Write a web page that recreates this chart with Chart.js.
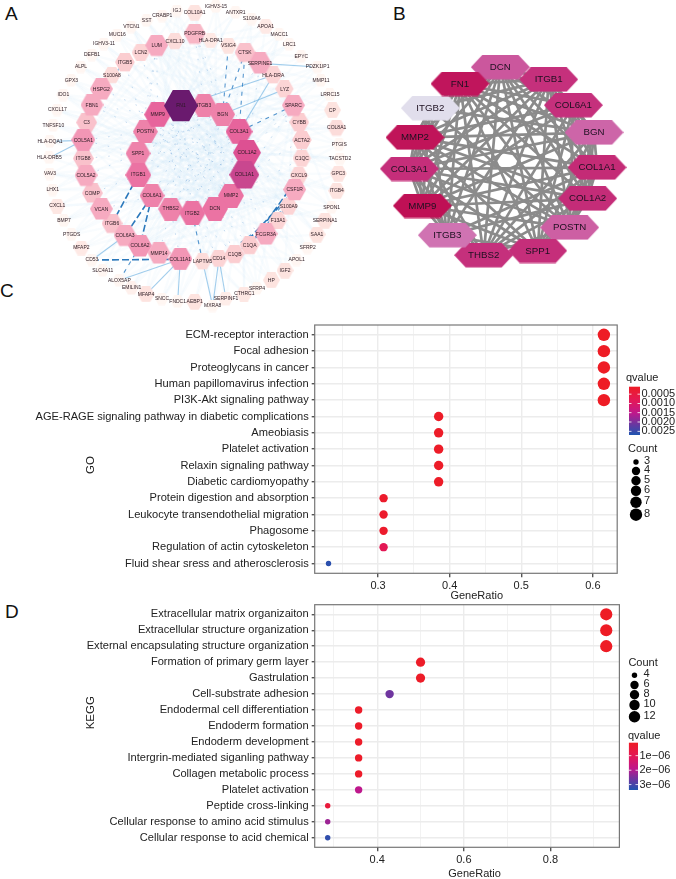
<!DOCTYPE html>
<html>
<head>
<meta charset="utf-8">
<title>PPI network and enrichment</title>
<script src="https://cdn.jsdelivr.net/npm/chart.js@4"></script>
<style>
  html, body { margin: 0; padding: 0; background: #fff; width: 676px; height: 879px; overflow: hidden; }
  canvas { position: absolute; filter: blur(.3px); }
  #netA { filter: blur(.4px); }
  .tag { position: absolute; font: 19px 'Liberation Sans', Arial, sans-serif; color: #111; }
</style>
</head>
<body>
<div class="tag" style="left:5px;top:3px">A</div>
<div class="tag" style="left:393px;top:3px">B</div>
<div class="tag" style="left:0px;top:280px">C</div>
<div class="tag" style="left:5px;top:601px">D</div>
<canvas id="netA" width="370" height="320" style="left:0;top:0"></canvas>
<canvas id="netB" width="336" height="310" style="left:340px;top:0"></canvas>
<canvas id="dotC" width="676" height="290" style="left:0;top:310px"></canvas>
<canvas id="dotD" width="676" height="289" style="left:0;top:590px"></canvas>
<script>
// ---- panel A network, layout
const aNames = ['IGJ','COL10A1','IGHV3-15','ANTXR1','S100A6','APOA1','MACC1','LRC1','EPYC','PDZK1IP1','HLA-DRA','MMP11','LRRC15','LYZ','SPARC','CP','CYBB','COL8A1','ACTA2','PTGIS','C1QC','TACSTD2','GPC3','CXCL9','CSF1R','ITGB4','S100A9','SPON1','SERPINA1','F13A1','FCGR3A','SAA1','C1QA','SFRP2','APOL1','C1QB','IGF2','HP','SFRP4','CTHRC1','SERPINF1','CD14','LAPTM5','MXRA8','AEBP1','FNDC1','SNCC','MFAP4','EMILIN1','ALOX5AP','SLC4A11','CD53','MFAP2','PTGDS','BMP7','CXCL1','LHX1','VAV3','HLA-DRB5','HLA-DQA1','TNFSF10','CXCL17','IDO1','GPX3','ALPL','DEFB1','IGHV3-11','MUC16','VTCN1','SST','CRABP1','PDGFRB','HLA-DPA1','VSIG4','CTSK','SERPINE1','CXCL10','LUM','LCN2','ITGB5','S100A8','HSPG2','FBN1','C3','COL5A1','ITGB8','COL5A2','COMP','VCAN','ITGB6','COL6A3','COL6A2','MMP14','COL11A1','ITGB3','BGN','COL3A1','COL1A2','COL1A1','MMP2','DCN','ITGB2','THBS2','COL6A1','ITGB1','SPP1','POSTN','MMP9','FN1'];
const aX = [531,584,648,707,755,797,838,868,904,953,820,963,990,854,880,997,898,1010,906,1018,906,1020,1015,897,884,1010,866,995,975,834,798,951,749,923,890,704,855,814,771,733,678,657,608,638,584,533,486,438,395,358,308,276,244,215,192,172,158,150,148,150,160,172,190,214,243,276,312,352,394,440,487,584,632,685,735,780,525,470,423,375,336,304,276,260,250,250,258,277,304,336,375,420,477,541,612,668,717,741,733,693,645,577,512,456,415,414,436,473,543];
const aY = [33,38,20,37,57,79,104,133,170,201,226,241,284,268,317,331,368,384,421,434,476,477,521,528,570,573,620,623,662,663,703,704,736,744,780,763,812,841,865,882,897,776,785,918,906,905,897,883,864,841,811,780,744,704,662,618,570,522,473,424,376,330,285,241,201,165,132,105,81,62,48,102,122,137,158,190,124,137,159,188,226,268,316,368,421,476,527,580,628,671,707,738,760,778,316,343,395,458,525,587,626,640,627,587,525,460,395,344,318];
const aDegree = [0,1,0,0,0,.7,0,0,0,0,2,0,0,2,4,1,2.5,1.5,2.5,0,2,0,1,2,4,1,2,0,1,2,4,1,2.5,0,0,2.5,1,1,0,.8,.5,2,1.5,0,1,0,0,1,.3,0,0,0,.7,0,0,.8,0,0,0,0,0,0,0,0,0,0,0,0,0,0,0,3.5,.7,1,3,4,1.5,4,2,2.5,1.5,4,4,3,4.5,3,4,3,4,3,4,4.5,4,4.5,5,5,6,7,8,5.5,5.5,5.5,5,5,5.5,5,5,6,10];

// pale wash of edges, hub -> partners
const aFaintLinks = {
  'FN1': 'IGJ COL10A1 ANTXR1 S100A6 MACC1 EPYC MMP11 LRRC15 CP COL8A1 PTGIS GPC3 SPON1 SAA1 SFRP2 IGF2 SFRP4 MXRA8 FNDC1 MFAP4 SLC4A11 PTGDS LHX1 VAV3 IDO1 ALPL IGHV3-11 VTCN1',
  'COL1A1': 'CRABP1 SST MUC16 DEFB1 GPX3 CXCL17 TNFSF10 HLA-DQA1 LHX1 BMP7 MFAP2 SLC4A11 EMILIN1 AEBP1 SERPINF1 CTHRC1 IGF2 HP SFRP4 APOA1 S100A6 PDGFRB COL10A1',
  'COL1A2': 'SST VTCN1 IGHV3-11 ALPL IDO1 TNFSF10 VAV3 BMP7 PTGDS CD53 ALOX5AP FNDC1 MXRA8 SNCC COL8A1 TACSTD2 ITGB4 PDZK1IP1 IGHV3-15 MACC1',
  'COL3A1': 'IGJ CRABP1 MUC16 GPX3 CXCL17 HLA-DRB5 CXCL1 MFAP2 EMILIN1 MFAP4 AEBP1 CTHRC1 APOL1 SAA1 SFRP2',
  'ITGB1': 'COL10A1 ANTXR1 APOA1 LRC1 PDZK1IP1 MMP11 LRRC15 CP PTGIS TACSTD2 GPC3 SPON1 SERPINA1 APOL1 HP SFRP4 CTHRC1',
  'MMP2': 'IGJ IGHV3-11 DEFB1 ALPL GPX3 IDO1 CXCL17 TNFSF10 HLA-DQA1 VAV3 CXCL1 COL10A1 VTCN1 SST',
  'DCN': 'COL10A1 IGHV3-15 S100A6 MACC1 LRRC15 VTCN1 MUC16 GPX3 IDO1 HLA-DRB5 VAV3',
  'BGN': 'CXCL1 LHX1 PTGDS BMP7 SLC4A11 CD53 ALOX5AP FNDC1 SNCC MFAP4 EMILIN1 MXRA8',
  'SPARC': 'CRABP1 MUC16 DEFB1 HLA-DQA1 HLA-DRB5 BMP7 PTGDS CD53 SNCC FNDC1 SFRP4 IGF2 SPON1',
  'LUM': 'APOA1 MACC1 EPYC MMP11 CP PTGIS GPC3 SPON1 SAA1 APOL1 HP SERPINF1 MXRA8',
  'COL5A1': 'IGJ COL10A1 ANTXR1 LRC1 PDZK1IP1 LRRC15 COL8A1 TACSTD2 ITGB4 SERPINA1 SFRP2 CTHRC1',
  'CSF1R': 'SST VTCN1 DEFB1 ALPL IDO1 CXCL17 VAV3 LHX1 CXCL1 MFAP2 PTGDS CD53 SLC4A11 ALOX5AP',
  'COL6A2': 'IGHV3-15 S100A6 MACC1 EPYC MMP11 CP PTGIS GPC3 SPON1 SAA1 APOL1 IGJ',
  'POSTN': 'APOA1 LRC1 MMP11 COL8A1 TACSTD2 ITGB4 SERPINA1 SFRP2 IGF2 HP SFRP4'
};

// thin dotted edges between the two rings
const aThinLinks = [
  ['FN1','COL1A1'],['FN1','MMP2'],['FN1','DCN'],['FN1','THBS2'],['FN1','ITGB2'],['ITGB3','ITGB1'],['ITGB3','SPP1'],['ITGB3','COL6A1'],['BGN','SPP1'],['BGN','POSTN'],['BGN','THBS2'],['COL3A1','ITGB1'],['COL3A1','COL6A1'],['COL1A2','SPP1'],['COL1A2','POSTN'],['COL1A1','POSTN'],['COL1A1','MMP9'],['MMP2','MMP9'],['MMP2','POSTN'],['DCN','POSTN'],['DCN','MMP9'],['ITGB2','MMP9'],['ITGB2','BGN'],['THBS2','COL3A1'],['COL6A1','COL1A2'],
  ['LUM','MMP9'],['LUM','POSTN'],['LUM','SPP1'],['LCN2','MMP9'],['ITGB5','POSTN'],['PDGFRB','ITGB3'],['PDGFRB','BGN'],['PDGFRB','COL3A1'],['SERPINE1','BGN'],['SERPINE1','COL1A2'],['SPARC','COL1A2'],['SPARC','MMP2'],['HSPG2','MMP9'],['FBN1','MMP9'],['FBN1','POSTN'],['COL5A1','POSTN'],['COL5A1','SPP1'],['ITGB8','SPP1'],['COL5A2','SPP1'],['COMP','ITGB1'],['VCAN','COL6A1'],['COL11A1','THBS2'],['MMP14','THBS2'],['C1QA','DCN'],['C1QB','ITGB2'],['CD14','ITGB2'],['C1QB','DCN'],['C1QC','MMP2'],['ACTA2','COL1A1'],['CYBB','BGN'],['S100A9','MMP2'],['F13A1','MMP2'],['FCGR3A','DCN']
];

// clear blue edges
const aLightLinks = [
  ['FN1','HLA-DRA'],['HLA-DQA1','COL5A1'],['HLA-DRB5','COL5A1'],['S100A8','ITGB5'],['HSPG2','ITGB5'],['LYZ','BGN'],['CD53','COL6A3'],['CD14','MXRA8'],['CD14','SERPINF1'],['COL11A1','FNDC1'],['LAPTM5','MXRA8'],['ALOX5AP','COL11A1'],['MFAP4','COL11A1'],['HLA-DRA','COL3A1'],['SERPINE1','PDZK1IP1']
];

const aDarkLinks = [
  ['ALOX5AP','COL6A2'],['LAPTM5','ITGB2'],['F13A1','CXCL9'],['FCGR3A','S100A9'],['C1QA','CSF1R'],['BGN','VSIG4'],['BGN','CTSK'],['SPARC','COL3A1'],['CYBB','C1QC'],['ACTA2','SPARC'],['COL5A1','ITGB8'],['C1QB','F13A1'],['CD14','S100A9'],['COL3A1','CTSK']
];

// the heaviest bundles
const aStrongLinks = [
  ['ITGB1','ITGB6'],['COL6A1','COL6A3'],['COL6A1','COL6A2'],['CD53','COL11A1'],['FCGR3A','CSF1R'],['C1QB','CSF1R'],['C1QA','CXCL9']
];

// ---- panel B network
const bNames = ['DCN','ITGB1','COL6A1','BGN','COL1A1','COL1A2','POSTN','SPP1','THBS2','ITGB3','MMP9','COL3A1','MMP2','ITGB2','FN1'];
const bX = [481,626,700,762,771,743,689,593,431,322,247,208,225,271,360];
const bY = [202,239,316,398,503,596,683,753,766,706,618,507,413,325,252];
const bScore = [.62,.82,.82,.55,.85,.84,.58,.83,.82,.48,1,.83,.98,0,.97];
const bMissing = [['ITGB2','COL1A1'],['ITGB2','COL1A2'],['ITGB2','SPP1'],['ITGB2','THBS2'],['ITGB2','COL6A1'],['ITGB2','DCN'],['ITGB3','BGN'],['ITGB3','COL6A1'],['ITGB3','POSTN']];

// ---- panel C
const cTerms = ['ECM-receptor interaction','Focal adhesion','Proteoglycans in cancer','Human papillomavirus infection','PI3K-Akt signaling pathway','AGE-RAGE signaling pathway in diabetic complications','Ameobiasis','Platelet activation','Relaxin signaling pathway','Diabetic cardiomyopathy','Protein digestion and absorption','Leukocyte transendothelial migration','Phagosome','Regulation of actin cytoskeleton','Fluid shear sress and atherosclerosis'];
const cRatio = [.6154,.6154,.6154,.6154,.6154,.3846,.3846,.3846,.3846,.3846,.3077,.3077,.3077,.3077,.2308];
const cCount = [8,8,8,8,8,5,5,5,5,5,4,4,4,4,3];
const cQvalue = [.0001,.0001,.0001,.0001,.0001,.00015,.00015,.00015,.00015,.00015,.0002,.0002,.0002,.0008,.0026];
const cMajorTicks = [.3,.4,.5,.6];
const cMinorTicks = [.25,.35,.45,.55];
const cLegendCounts = [3,4,5,6,7,8];
const cLegendQ = [.0005,.001,.0015,.002,.0025];
const cLegendQText = ['0.0005','0.0010','0.0015','0.0020','0.0025'];

// ---- panel D
const dTerms = ['Extracellular matrix organizaiton','Extracellular structure organization','External encapsulating structure organization','Formation of primary germ layer','Gastrulation','Cell-substrate adhesion','Endodermal cell differentiation','Endoderm formation','Endoderm development','Intergrin-mediated siganling pathway','Collagen metabolic process','Platelet activation','Peptide cross-linking','Cellular response to amino acid stimulus','Cellular response to acid chemical'];
const dRatio = [.9286,.9286,.9286,.5,.5,.4286,.3571,.3571,.3571,.3571,.3571,.3571,.2857,.2857,.2857];
const dCount = [13,13,13,7,7,6,5,5,5,5,5,5,4,4,4];
const dQvalue = [1e-7,1e-7,1e-7,1.5e-7,1.5e-7,2.6e-6,2e-7,2e-7,2e-7,2e-7,2e-7,1.9e-6,5e-7,2.2e-6,3.2e-6];
const dMajorTicks = [.4,.6,.8];
const dMinorTicks = [.3,.5,.7,.9];
const dLegendCounts = [4,6,8,10,12];
const dLegendQ = [1e-6,2e-6,3e-6];
const dLegendQText = ['1e\u221206','2e\u221206','3e\u221206'];

const FONT = "'Liberation Sans', Arial, sans-serif";
Chart.defaults.animation = false;
Chart.defaults.font.family = FONT;

function lerpStops(stops, t) {
  t = Math.max(0, Math.min(1, t));
  for (let i = 1; i < stops.length; i++) {
    if (t <= stops[i][0]) {
      const f = (t - stops[i-1][0]) / (stops[i][0] - stops[i-1][0]);
      const a = stops[i-1][1], b = stops[i][1];
      return 'rgb(' + a.map((c, k) => Math.round(c + (b[k] - c) * f)).join(',') + ')';
    }
  }
  return 'rgb(' + stops[stops.length-1][1].join(',') + ')';
}

function interp(table, v) {
  for (let i = 1; i < table.length; i++) {
    if (v <= table[i][0]) {
      const f = (v - table[i-1][0]) / (table[i][0] - table[i-1][0]);
      return table[i-1][1] + (table[i][1] - table[i-1][1]) * f;
    }
  }
  return table[table.length-1][1];
}

// flat-top hexagon as a point image
function hexImage(w, h, fill, inset) {
  const c = document.createElement('canvas');
  c.width = Math.ceil(w); c.height = Math.ceil(h);
  const g = c.getContext('2d');
  g.beginPath();
  g.moveTo(0, h/2); g.lineTo(inset, 0); g.lineTo(w-inset, 0); g.lineTo(w, h/2); g.lineTo(w-inset, h); g.lineTo(inset, h);
  g.closePath();
  g.fillStyle = fill;
  g.fill();
  return c;
}

function networkChart(id, w, h, linkSets, names, xs, ys, images, labelFont, labelColor) {
  const datasets = [{
    data: xs.map((x, i) => ({x: x, y: ys[i]})),
    showLine: false,
    pointStyle: images,
    pointRadius: 10,
    order: 0
  }];
  linkSets.forEach(set => {
    set.links.forEach(pair => {
      const a = names.indexOf(pair[0]), b = names.indexOf(pair[1]);
      datasets.push({
        data: [{x: xs[a], y: ys[a]}, {x: xs[b], y: ys[b]}],
        showLine: true, pointRadius: 0, borderColor: set.color, borderWidth: set.width,
        borderDash: set.dash || [], order: set.order
      });
    });
  });
  return new Chart(document.getElementById(id), {
    type: 'scatter',
    data: {datasets: datasets},
    options: {
      responsive: false,
      events: [],
      layout: {padding: 0, autoPadding: false},
      plugins: {legend: {display: false}, tooltip: {enabled: false}},
      scales: {
        x: {display: false, min: 0, max: w},
        y: {display: false, min: 0, max: h, reverse: true}
      }
    },
    plugins: [{
      id: 'nodeLabels',
      afterDatasetsDraw(chart) {
        const ctx = chart.ctx;
        const pts = chart.getDatasetMeta(0).data;
        ctx.save();
        ctx.textAlign = 'center';
        ctx.textBaseline = 'middle';
        ctx.font = labelFont;
        ctx.fillStyle = labelColor;
        names.forEach((n, i) => ctx.fillText(n, pts[i].x, pts[i].y));
        ctx.restore();
      }
    }]
  });
}

// panel A: draw strong nodes last so they sit on top
const aRamp = [[0,[255,246,242]],[.1,[253,227,223]],[.25,[251,205,208]],[.4,[246,170,192]],[.5,[238,130,170]],[.6,[231,100,156]],[.7,[221,80,146]],[.8,[201,71,143]],[1,[106,26,110]]];
const aWidth = [[0,13.5],[1,17],[2,18.5],[3,21],[4,23],[5,25],[6,27],[7,28],[8,30],[10,34]];
const aOrder = aNames.map((n, i) => i).sort((p, q) => aDegree[p] - aDegree[q]);
const aImages = aOrder.map(i => {
  const w = interp(aWidth, aDegree[i]);
  return hexImage(w, w * .92, lerpStops(aRamp, aDegree[i] / 10), w * .26);
});
const aFaint = [];
Object.keys(aFaintLinks).forEach(hub => aFaintLinks[hub].split(' ').forEach(t => aFaint.push([hub, t])));
networkChart('netA', 1110, 960, [
  {links: aFaint, color: 'rgba(200,224,244,0.11)', width: 2.4, order: 5},
  {links: aThinLinks, color: 'rgba(70,140,205,0.4)', width: .8, dash: [1.5, 11], order: 4},
  {links: aLightLinks, color: 'rgba(110,178,226,0.65)', width: 1.1, order: 3},
  {links: aDarkLinks, color: 'rgba(30,115,190,0.75)', width: 1.1, dash: [4, 5], order: 2},
  {links: aStrongLinks, color: 'rgba(20,105,180,0.9)', width: 1.6, dash: [7, 3], order: 1}
], aOrder.map(i => aNames[i]), aOrder.map(i => aX[i]), aOrder.map(i => aY[i]), aImages, '5px ' + FONT, '#2a1a22');

// panel B: every pair is linked apart from the listed ones
const bRamp = [[0,[225,222,236]],[.5,[207,111,176]],[.82,[197,48,124]],[1,[191,16,85]]];
const bLinks = [];
bNames.forEach((a, i) => bNames.slice(i + 1).forEach(b => {
  const gone = bMissing.some(p => (p[0] === a && p[1] === b) || (p[0] === b && p[1] === a));
  if (!gone) bLinks.push([a, b]);
}));
networkChart('netB', 1008, 930, [{links: bLinks, color: '#8b8b8b', width: 2.7, order: 2}],
  bNames, bX, bY, bScore.map(s => hexImage(59, 24.5, lerpStops(bRamp, s), 11.5)), '9.7px ' + FONT, '#1d1020');

// dot plots
const qStops = [[0,[238,28,37]],[.3,[226,24,90]],[.55,[190,24,140]],[.78,[105,55,160]],[1,[30,85,176]]];

function putText(ctx, s, x, y, size, align) {
  ctx.font = size + 'px ' + FONT;
  ctx.fillStyle = '#222';
  ctx.textAlign = align || 'left';
  ctx.textBaseline = 'middle';
  ctx.fillText(s, x, y);
}

function dotPlot(id, p) {
  const qT = q => (q - p.qMin) / (p.qMax - p.qMin);
  new Chart(document.getElementById(id), {
    type: 'scatter',
    data: {datasets: [{
      data: p.ratio.map((r, i) => ({x: r, y: i})),
      pointRadius: p.count.map(c => interp(p.radius, c)),
      backgroundColor: p.q.map(q => lerpStops(qStops, qT(q))),
      borderWidth: 0
    }]},
    options: {
      responsive: false,
      events: [],
      layout: {padding: {left: 0, top: p.top, right: 676 - p.right, bottom: 0}, autoPadding: false},
      plugins: {legend: {display: false}, tooltip: {enabled: false}},
      scales: {
        x: {
          min: p.xMin, max: p.xMax,
          afterFit: s => { s.height = p.canvasH - p.bottom; },
          afterBuildTicks: s => { s.ticks = p.major.concat(p.minor).map(v => ({value: v})); },
          ticks: {
            autoSkip: false, maxRotation: 0, padding: 2, color: '#222', font: {size: 11},
            callback: v => p.major.includes(v) ? v.toFixed(1) : ''
          },
          grid: {
            color: '#ececec', tickLength: 4,
            lineWidth: c => p.major.includes(c.tick.value) ? 1.4 : .7,
            tickColor: c => p.major.includes(c.tick.value) ? '#555' : 'rgba(0,0,0,0)'
          },
          border: {display: false}
        },
        y: {
          min: -.6, max: p.terms.length - .4, reverse: true,
          afterFit: s => { s.width = p.left; },
          afterBuildTicks: s => { s.ticks = p.terms.map((t, i) => ({value: i})); },
          ticks: {
            autoSkip: false, padding: 3, color: '#222', font: {size: 11.1},
            callback: v => p.terms[v]
          },
          grid: {color: '#ececec', lineWidth: 1.4, tickLength: 3, tickColor: '#555'},
          border: {display: false}
        }
      }
    },
    plugins: [{
      id: 'extras',
      afterDraw(chart) {
        const ctx = chart.ctx, a = chart.chartArea;
        ctx.save();
        ctx.strokeStyle = '#777';
        ctx.lineWidth = 1.2;
        ctx.strokeRect(a.left, a.top, a.right - a.left, a.bottom - a.top);
        putText(ctx, 'GeneRatio', p.xTitle[0], p.xTitle[1], 11, 'center');
        ctx.translate(p.yTitle[0], p.yTitle[1]);
        ctx.rotate(-Math.PI / 2);
        putText(ctx, p.yText, 0, 0, 11.5, 'center');
        ctx.rotate(Math.PI / 2);
        ctx.translate(-p.yTitle[0], -p.yTitle[1]);
        // size legend
        putText(ctx, 'Count', p.sizeTitle[0], p.sizeTitle[1], 11);
        p.legendCounts.forEach((c, i) => {
          ctx.beginPath();
          ctx.arc(p.sizeX, p.sizeY[i], interp(p.radius, c), 0, Math.PI * 2);
          ctx.fillStyle = '#000';
          ctx.fill();
          putText(ctx, String(c), p.sizeLabelX, p.sizeY[i] - 1, 11);
        });
        // colour bar
        putText(ctx, 'qvalue', p.qTitle[0], p.qTitle[1], 11);
        const g = ctx.createLinearGradient(0, p.bar[1], 0, p.bar[3]);
        qStops.forEach(s => g.addColorStop(s[0], 'rgb(' + s[1].join(',') + ')'));
        ctx.fillStyle = g;
        ctx.fillRect(p.bar[0], p.bar[1], p.bar[2] - p.bar[0], p.bar[3] - p.bar[1]);
        p.legendQ.forEach((q, i) => {
          const y = p.bar[1] + qT(q) * (p.bar[3] - p.bar[1]);
          ctx.fillStyle = '#fff';
          ctx.fillRect(p.bar[0], y - .4, 2.5, .8);
          ctx.fillRect(p.bar[2] - 2.5, y - .4, 2.5, .8);
          putText(ctx, p.legendQText[i], p.bar[2] + 1.5, y, 11);
        });
        ctx.restore();
      }
    }]
  });
}

dotPlot('dotC', {
  terms: cTerms, ratio: cRatio, count: cCount, q: cQvalue,
  major: cMajorTicks, minor: cMinorTicks, xMin: .2115, xMax: .634,
  qMin: .0001, qMax: .0027,
  legendCounts: cLegendCounts, legendQ: cLegendQ, legendQText: cLegendQText,
  radius: [[3,2.7],[4,4.2],[5,4.7],[6,5.2],[7,5.7],[8,6.2]],
  canvasH: 290, top: 15, bottom: 263.3, left: 314.7, right: 617.2,
  xTitle: [476.7, 285.7], yTitle: [91, 155], yText: 'GO',
  sizeTitle: [628, 139.3], sizeX: 636, sizeY: [152, 161, 170.7, 180.7, 192.3, 204.7], sizeLabelX: 644,
  qTitle: [626, 68], bar: [629, 76.7, 640, 125]
});

dotPlot('dotD', {
  terms: dTerms, ratio: dRatio, count: dCount, q: dQvalue,
  major: dMajorTicks, minor: dMinorTicks, xMin: .2557, xMax: .959,
  qMin: 1e-7, qMax: 3.37e-6,
  legendCounts: dLegendCounts, legendQ: dLegendQ, legendQText: dLegendQText,
  radius: [[4,2.7],[5,3.7],[6,4.2],[7,4.6],[8,4.7],[10,5.2],[12,5.7],[13,6.1]],
  canvasH: 289, top: 14.7, bottom: 257.3, left: 314.7, right: 619.4,
  xTitle: [474.6, 284], yTitle: [91, 122.7], yText: 'KEGG',
  sizeTitle: [628.4, 73.3], sizeX: 634.5, sizeY: [85.3, 95, 104.7, 115, 126.7], sizeLabelX: 643.5,
  qTitle: [628, 146], bar: [628.9, 152.7, 638, 200]
});
</script>
</body>
</html>
